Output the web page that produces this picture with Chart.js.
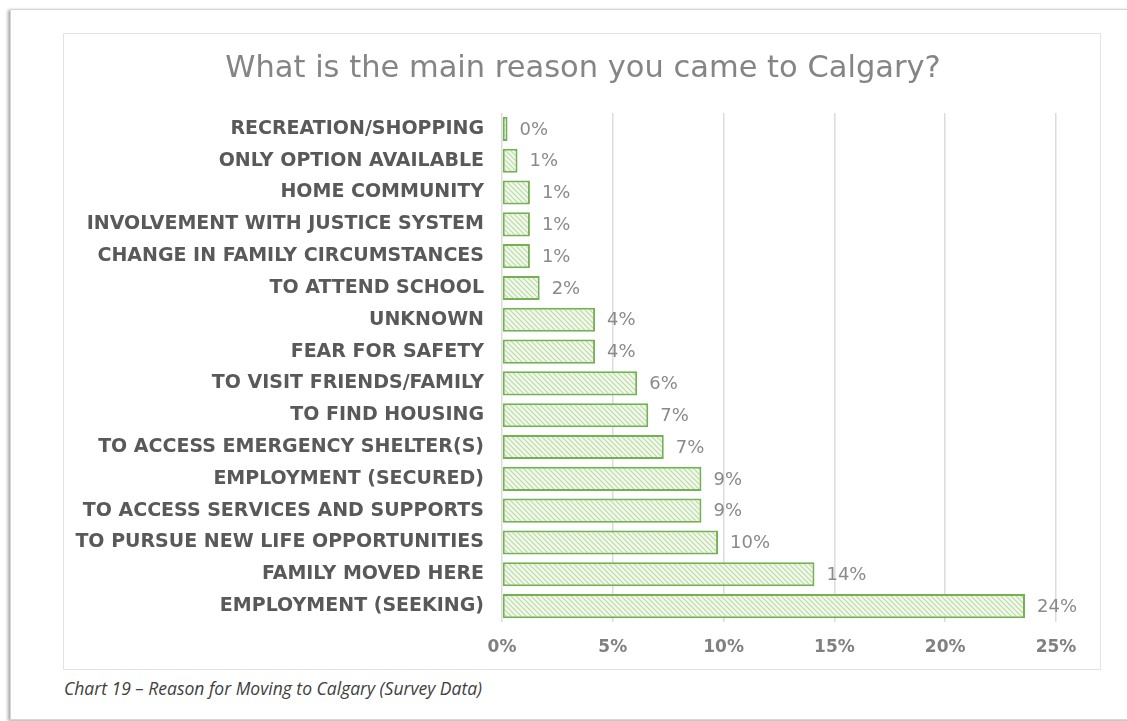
<!DOCTYPE html>
<html>
<head>
<meta charset="utf-8">
<script src="https://cdn.jsdelivr.net/npm/chart.js@4.4.1/dist/chart.umd.min.js"></script>
<style>
  html, body { margin: 0; padding: 0; background: #fff; overflow: hidden; }
  body { width: 1127px; height: 721px; position: relative; }
  .page {
    position: absolute; left: 10px; top: 9px; width: 1140px; height: 709px;
    border: 1px solid #d6d6d6;
    box-shadow: -2px 1px 3px rgba(0,0,0,0.35);
  }
  .box {
    position: absolute; left: 63px; top: 33px; width: 1038px; height: 637px;
    border: 1px solid #e3e3e3; box-sizing: border-box;
  }
  .box canvas { position: absolute; left: 0; top: 0; }
  .caption {
    position: absolute; left: 64px; top: 676px;
    font: italic 17.5px "Open Sans", sans-serif; color: #404040;
  }
</style>
</head>
<body>
<div class="page"></div>
<div class="box"><canvas id="reasonChart" width="1038" height="637"></canvas></div>
<div class="caption">Chart 19 – Reason for Moving to Calgary (Survey Data)</div>
<script>
const titleText = 'What is the main reason you came to Calgary?';
const categories = [
  'RECREATION/SHOPPING',
  'ONLY OPTION AVAILABLE',
  'HOME COMMUNITY',
  'INVOLVEMENT WITH JUSTICE SYSTEM',
  'CHANGE IN FAMILY CIRCUMSTANCES',
  'TO ATTEND SCHOOL',
  'UNKNOWN',
  'FEAR FOR SAFETY',
  'TO VISIT FRIENDS/FAMILY',
  'TO FIND HOUSING',
  'TO ACCESS EMERGENCY SHELTER(S)',
  'EMPLOYMENT (SECURED)',
  'TO ACCESS SERVICES AND SUPPORTS',
  'TO PURSUE NEW LIFE OPPORTUNITIES',
  'FAMILY MOVED HERE',
  'EMPLOYMENT (SEEKING)'
];
// percent of respondents
const values = [0.25, 0.7, 1.26, 1.26, 1.26, 1.7, 4.2, 4.2, 6.1, 6.6, 7.3, 9.0, 9.0, 9.75, 14.1, 23.6];
const xTicks = [0, 5, 10, 15, 20, 25];

// hatched green fill for the bars
function hatch() {
  const c = document.createElement('canvas');
  c.width = 5; c.height = 5;
  const g = c.getContext('2d');
  g.fillStyle = '#f2f8ec';
  g.fillRect(0, 0, 5, 5);
  g.strokeStyle = '#bcdba6';
  g.lineWidth = 1.2;
  g.beginPath();
  g.moveTo(-1, -1); g.lineTo(6, 6);
  g.moveTo(-4, 1); g.lineTo(4, 9);
  g.moveTo(1, -4); g.lineTo(9, 4);
  g.stroke();
  return g.createPattern(c, 'repeat');
}

// title centred on the whole canvas, not on the padded layout
const centredTitle = {
  id: 'centredTitle',
  afterDraw(chart) {
    const ctx = chart.ctx;
    ctx.save();
    ctx.font = '30.5px "DejaVu Sans", sans-serif';
    ctx.fillStyle = '#858585';
    ctx.textAlign = 'center';
    ctx.textBaseline = 'middle';
    ctx.fillText(titleText, chart.width / 2, 35);
    ctx.restore();
  }
};

const valueLabels = {
  id: 'valueLabels',
  afterDatasetsDraw(chart) {
    const ctx = chart.ctx;
    const meta = chart.getDatasetMeta(0);
    ctx.save();
    ctx.font = '18px "DejaVu Sans", sans-serif';
    ctx.fillStyle = '#8a8a8a';
    ctx.textAlign = 'left';
    ctx.textBaseline = 'middle';
    meta.data.forEach((bar, i) => {
      ctx.fillText(Math.round(values[i]) + '%', bar.x + 12, bar.y + 1);
    });
    ctx.restore();
  }
};

const ctx = document.getElementById('reasonChart').getContext('2d');
new Chart(ctx, {
  type: 'bar',
  data: {
    labels: categories,
    datasets: [{
      data: values,
      backgroundColor: hatch(),
      borderColor: '#74b152',
      borderWidth: 2,
      borderSkipped: false,
      barPercentage: 0.76,
      categoryPercentage: 1
    }]
  },
  options: {
    indexAxis: 'y',
    responsive: false,
    animation: false,
    layout: { padding: { top: 79, right: 46, bottom: 0, left: 0 } },
    plugins: {
      legend: { display: false },
      tooltip: { enabled: false },
      title: { display: false }
    },
    scales: {
      x: {
        min: 0,
        max: 25,
        afterBuildTicks(scale) {
          scale.ticks = xTicks.map(v => ({ value: v }));
        },
        afterFit(scale) { scale.height = 49; },
        grid: { color: '#dcdcdc', lineWidth: 1.5, drawTicks: false },
        border: { display: false },
        ticks: {
          padding: 15,
          color: '#808080',
          font: { family: '"DejaVu Sans", sans-serif', size: 17, weight: 'bold' },
          callback: v => v + '%'
        }
      },
      y: {
        afterFit(scale) { scale.width = 438; },
        grid: { display: false, drawTicks: false },
        border: { display: false },
        ticks: {
          padding: 18,
          color: '#595959',
          autoSkip: false,
          font: { family: '"DejaVu Sans", sans-serif', size: 19, weight: 'bold' }
        }
      }
    }
  },
  plugins: [centredTitle, valueLabels]
});
</script>
</body>
</html>
